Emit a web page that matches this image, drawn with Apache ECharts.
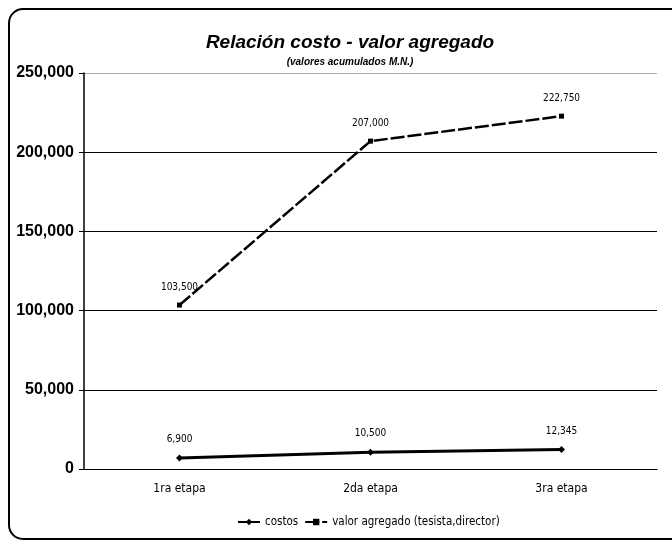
<!DOCTYPE html>
<html>
<head>
<meta charset="utf-8">
<script src="https://cdn.jsdelivr.net/npm/echarts@6/dist/echarts.min.js"></script>
<style>
  html, body { margin: 0; padding: 0; background: #fff; }
  #chart { width: 672px; height: 546px; }
</style>
</head>
<body>
<div id="chart"></div>
<script>
// Stages of the project
const etapas = ['1ra etapa', '2da etapa', '3ra etapa'];
// Accumulated values (M.N.)
const costos = [6900, 10500, 12345];
const valorAgregado = [103500, 207000, 222750];
// Value axis ticks
const yTicks = [0, 50000, 100000, 150000, 200000, 250000];

const NARROW = "'DejaVu Sans Condensed', 'Liberation Sans Narrow', 'Liberation Sans', sans-serif";
const SANS = "'Liberation Sans', Arial, sans-serif";
const fmt = v => v.toLocaleString('en-US');

const chart = echarts.init(document.getElementById('chart'));
chart.setOption({
  backgroundColor: '#fff',
  animation: false,
  graphic: [{
    type: 'rect',
    shape: { x: 9, y: 9, width: 700, height: 530, r: 14 },
    style: { fill: 'none', stroke: '#000', lineWidth: 2 }
  }],
  title: {
    text: 'Relación costo - valor agregado',
    subtext: '(valores acumulados M.N.)',
    left: 345, top: 28, textAlign: 'center', itemGap: 5,
    textStyle: { fontFamily: SANS, fontSize: 19, fontWeight: 'bold', fontStyle: 'italic', color: '#000' },
    subtextStyle: { fontFamily: SANS, fontSize: 10, fontWeight: 'bold', fontStyle: 'italic', color: '#000' }
  },
  legend: {
    bottom: 13, left: 232, itemGap: 6, itemWidth: 22, itemHeight: 8,
    textStyle: { fontFamily: NARROW, fontSize: 11.5, color: '#000' },
    data: ['costos', 'valor agregado (tesista,director)']
  },
  grid: { left: 84, right: 15, top: 73, bottom: 77 },
  xAxis: {
    type: 'category', data: etapas, boundaryGap: true,
    axisLine: { lineStyle: { color: '#000', width: 1.2 } },
    axisTick: { show: false },
    axisLabel: { fontFamily: NARROW, fontSize: 12, color: '#000', margin: 14 }
  },
  yAxis: {
    type: 'value', min: yTicks[0], max: yTicks[yTicks.length - 1], interval: 50000,
    axisLine: { show: true, lineStyle: { color: '#000', width: 1.5 } },
    axisTick: { show: true, length: 5, lineStyle: { color: '#000' } },
    axisLabel: { fontFamily: SANS, fontSize: 16, fontWeight: 'bold', color: '#000', margin: 10, formatter: fmt },
    splitLine: { lineStyle: { color: ['#000', '#000', '#000', '#000', '#000', '#aaa'], width: 1.2 } }
  },
  series: [{
    name: 'costos', type: 'line', data: costos,
    symbol: 'diamond', symbolSize: 7,
    lineStyle: { color: '#000', width: 3 },
    itemStyle: { color: '#000' },
    label: { show: true, position: 'top', distance: 10, fontFamily: NARROW, fontSize: 10, color: '#000', formatter: p => fmt(p.value) }
  }, {
    name: 'valor agregado (tesista,director)', type: 'line', data: valorAgregado,
    symbol: 'rect', symbolSize: 5,
    lineStyle: { color: '#000', width: 2.5, type: [14, 3] },
    itemStyle: { color: '#000' },
    label: { show: true, position: 'top', distance: 10, fontFamily: NARROW, fontSize: 10, color: '#000', formatter: p => fmt(p.value) }
  }]
});
</script>
</body>
</html>
